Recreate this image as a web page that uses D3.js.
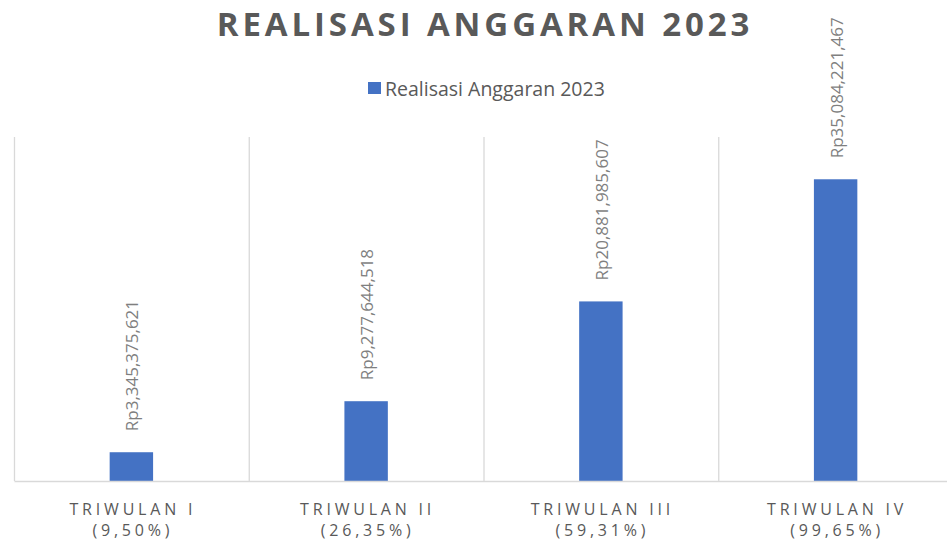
<!DOCTYPE html>
<html>
<head>
<meta charset="utf-8">
<script src="https://cdn.jsdelivr.net/npm/d3@7"></script>
<style>
  body { margin: 0; background: #fff; }
  svg { display: block; font-family: "Open Sans", "Noto Sans", sans-serif; }
</style>
</head>
<body>
<div id="chart"></div>
<script>
(function () {
  const categories = ["TRIWULAN I", "TRIWULAN II", "TRIWULAN III", "TRIWULAN IV"];
  const percents = ["(9,50%)", "(26,35%)", "(59,31%)", "(99,65%)"];
  const values = [3345375621, 9277644518, 20881985607, 35084221467];
  const seriesName = "Realisasi Anggaran 2023";
  const title = "REALISASI ANGGARAN 2023";

  const W = 947, H = 544;
  const margin = {top: 137, right: -6, bottom: 63, left: 14};
  const width = W - margin.left - margin.right;
  const height = H - margin.top - margin.bottom;

  const svg = d3.select("#chart").append("svg")
    .attr("width", W)
    .attr("height", H);

  svg.append("text")
    .attr("x", 485)
    .attr("y", 36)
    .attr("text-anchor", "middle")
    .attr("fill", "#595959")
    .style("font-size", "33px")
    .style("font-weight", "bold")
    .style("letter-spacing", "3.9px")
    .text(title);

  // legend
  const legend = svg.append("g").attr("transform", "translate(368,82)");
  legend.append("rect")
    .attr("width", 13).attr("height", 12)
    .attr("fill", "#4472c4");
  legend.append("text")
    .attr("x", 17).attr("y", 14)
    .attr("fill", "#595959")
    .style("font-size", "19.5px")
    .text(seriesName);

  const g = svg.append("g")
    .attr("transform", "translate(" + margin.left + "," + margin.top + ")");

  const x = d3.scaleBand()
    .domain(categories)
    .range([0, width])
    .paddingInner(0.815)
    .paddingOuter(0.4075);

  const y = d3.scaleLinear()
    .domain([0, 40000000000])
    .range([height, 0]);

  // vertical gridlines between categories
  const step = x.step();
  g.selectAll("line.grid")
    .data(d3.range(categories.length + 1))
    .join("line")
    .attr("class", "grid")
    .attr("x1", d => d * step + 0.5)
    .attr("x2", d => d * step + 0.5)
    .attr("y1", 0)
    .attr("y2", height)
    .attr("stroke", "#d9d9d9")
    .attr("stroke-width", 1.3);

  g.selectAll("rect.bar")
    .data(values)
    .join("rect")
    .attr("class", "bar")
    .attr("x", (d, i) => x(categories[i]))
    .attr("width", x.bandwidth())
    .attr("y", d => y(d))
    .attr("height", d => height - y(d))
    .attr("fill", "#4472c4");

  // baseline axis
  const xAxis = g.append("g")
    .attr("transform", "translate(0," + height + ")")
    .call(d3.axisBottom(x).tickSize(0).tickFormat(""));
  xAxis.select(".domain").attr("stroke", "#d9d9d9").attr("stroke-width", 1.5);

  const fmt = d3.format(",");
  g.selectAll("text.label")
    .data(values)
    .join("text")
    .attr("class", "label")
    .attr("transform", (d, i) =>
      "translate(" + (x(categories[i]) + x.bandwidth() / 2 + 7) + "," + (y(d) - 21) + ") rotate(-90)")
    .attr("fill", "#7f7f7f")
    .style("font-size", "17px")
    .text(d => "Rp" + fmt(d));

  const cx = d => x(d) + x.bandwidth() / 2 + 1.5;
  const cat = g.selectAll("text.cat")
    .data(categories)
    .join("text")
    .attr("class", "cat")
    .attr("text-anchor", "middle")
    .attr("fill", "#595959")
    .style("font-size", "16px")
    .style("letter-spacing", "3.8px");
  cat.append("tspan")
    .attr("x", cx)
    .attr("y", height + 34)
    .text(d => d);
  cat.append("tspan")
    .attr("x", cx)
    .attr("y", height + 55)
    .text((d, i) => percents[i]);
})();
</script>
</body>
</html>
